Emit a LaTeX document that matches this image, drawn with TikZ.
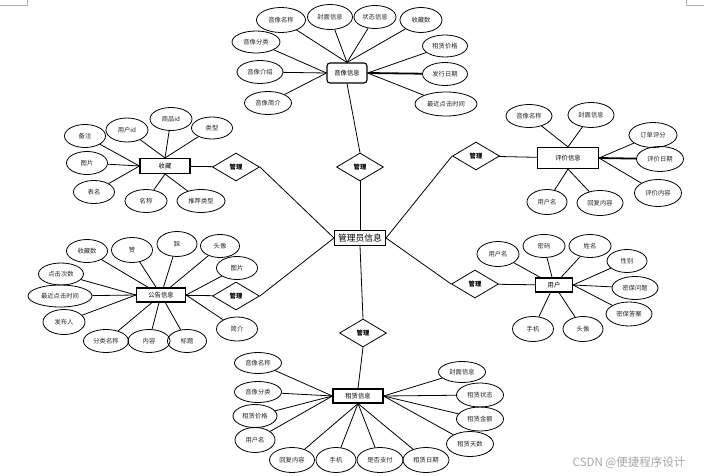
\documentclass[tikz,border=0pt]{standalone}
\usepackage{fontspec}
\newfontfamily\cjk{Noto Sans CJK SC}
\usetikzlibrary{shapes.geometric}
\tikzset{
  attr/.style={ellipse,draw,line width=0.8pt,inner sep=0pt,minimum width=44pt,minimum height=23pt,font=\cjk\fontsize{6.3}{7}\selectfont,text=black!85},
  ent/.style={rectangle,draw,line width=1.1pt,inner sep=0pt,minimum width=50pt,minimum height=15pt,font=\cjk\fontsize{6.3}{7}\selectfont},
  rel/.style={diamond,draw,line width=0.8pt,inner sep=0pt,minimum width=47pt,minimum height=28pt,font=\cjk\bfseries\fontsize{6.3}{7}\selectfont},
  conn/.style={line width=0.8pt},
  thickconn/.style={line width=1.8pt},
  cornermark/.style={draw=black!30,line width=0.8pt}
}
\begin{document}
\begin{tikzpicture}[x=1pt,y=-1pt]
\useasboundingbox (0,0) rectangle (704,476);
% corner marks
\coordinate (tl1) at (0,5); \coordinate (tl2) at (27,5); \coordinate (tl3) at (27,0);
\draw[cornermark] (tl1) -- (tl2) -- (tl3);
\coordinate (tr1) at (686,0); \coordinate (tr2) at (686,5); \coordinate (tr3) at (704,5);
\draw[cornermark] (tr1) -- (tr2) -- (tr3);

% central
\node[rectangle,draw,line width=1.1pt,inner sep=0pt,minimum width=51pt,minimum height=15pt,font=\cjk\fontsize{8.8}{10}\selectfont] (admin) at (360,238) {管理员信息};
\node[rel] (r1) at (360,167) {管理};
\node[rel] (r2) at (363,333) {管理};
\node[rel] (r3) at (236,167) {管理};
\node[rel] (r4) at (476,156) {管理};
\node[rel] (r5) at (236,296) {管理};
\node[rel] (r6) at (475,284) {管理};

% 音像信息
\node[ent,rounded corners=3pt,minimum width=40pt,minimum height=20pt] (yx) at (347,73) {音像信息};
\node[attr,minimum width=49pt,minimum height=25pt] (yx1) at (281,20) {音像名称};
\node[attr,minimum width=45pt,minimum height=25pt] (yx2) at (330,17) {封面信息};
\node[attr,minimum width=42pt,minimum height=23pt] (yx3) at (375,17) {状态信息};
\node[attr,minimum width=42pt,minimum height=25pt] (yx4) at (421,20) {收藏数};
\node[attr,minimum width=48pt,minimum height=22pt] (yx5) at (256,42) {音像分类};
\node[attr,minimum width=46pt,minimum height=23pt] (yx6) at (260,72) {音像介绍};
\node[attr,minimum width=47pt,minimum height=23pt] (yx7) at (268,103) {音像简介};
\node[attr,minimum width=45pt,minimum height=22pt] (yx8) at (445,46) {租赁价格};
\node[attr,minimum width=45pt,minimum height=23pt] (yx9) at (445,74) {发行日期};
\node[attr,minimum width=62pt,minimum height=24pt] (yx10) at (446,104) {最近点击时间};
\foreach \a in {yx1,yx2,yx3,yx4} \draw[conn] (yx.north) -- (\a);
\foreach \a in {yx5,yx6,yx7} \draw[conn] (yx.west) -- (\a);
\foreach \a in {yx8,yx10} \draw[conn] (yx.east) -- (\a);
\draw[thickconn] (yx.east) -- (yx9);
\draw[conn] (yx.south) -- (r1.north);
\draw[conn] (r1.south) -- (admin.north);

% 收藏
\node[ent] (sc) at (165,166) {收藏};
\node[attr,minimum width=41pt] (sc1) at (85,136) {备注};
\node[attr,minimum width=42pt,minimum height=24pt] (sc2) at (127,130) {用户id};
\node[attr,minimum width=42pt] (sc3) at (171,119) {商品id};
\node[attr,minimum width=41pt,minimum height=22pt] (sc4) at (212,128) {类型};
\node[attr,minimum width=41pt] (sc5) at (87,163) {图片};
\node[attr,minimum width=41pt] (sc6) at (94,192) {表名};
\node[attr,minimum width=42pt] (sc7) at (146,201) {名称};
\node[attr,minimum width=48pt] (sc8) at (201,201) {推荐类型};
\foreach \a in {sc1,sc5,sc6} \draw[conn] (sc.west) -- (\a);
\foreach \a in {sc2,sc3,sc4} \draw[conn] (sc.north) -- (\a);
\foreach \a in {sc7,sc8} \draw[conn] (sc.south) -- (\a);
\draw[conn] (sc) -- (r3);
\draw[conn] (r3.east) -- (admin.west);

% 评价信息
\node[ent,minimum width=61pt,minimum height=21pt] (pj) at (568,158) {评价信息};
\node[attr,minimum width=46pt] (pj1) at (529,116) {音像名称};
\node[attr,minimum width=46pt,minimum height=25pt] (pj2) at (591,115) {封面信息};
\node[attr,minimum width=48pt,minimum height=25pt] (pj3) at (653,135) {订单评分};
\node[attr,minimum width=47pt,minimum height=25pt] (pj4) at (660,159) {评价日期};
\node[attr,minimum width=47pt,minimum height=27pt] (pj5) at (658,193) {评价内容};
\node[attr,minimum width=40pt,minimum height=25pt] (pj6) at (547,202) {用户名};
\node[attr,minimum width=46pt,minimum height=25pt] (pj7) at (600,203) {回复内容};
\foreach \a in {pj1,pj2} \draw[conn] (pj.north) -- (\a);
\foreach \a in {pj6,pj7} \draw[conn] (pj.south) -- (\a);
\foreach \a in {pj3,pj5} \draw[conn] (pj.east) -- (\a);
\draw[thickconn] (pj.east) -- (pj4);
\draw[conn] (r4) -- (pj);
\draw[conn] (r4.west) -- (admin.east);

% 公告信息
\node[ent,minimum width=49pt,minimum height=14pt] (gg) at (161,295) {公告信息};
\node[attr,minimum width=41pt] (gg1) at (87,251) {收藏数};
\node[attr,minimum width=41pt,minimum height=25pt] (gg2) at (132,250) {赞};
\node[attr,minimum width=40pt,minimum height=25pt] (gg3) at (177,244) {踩};
\node[attr,minimum width=39pt] (gg4) at (220,246) {头像};
\node[attr,minimum width=41pt] (gg5) at (237,268) {图片};
\node[attr,minimum width=45pt,minimum height=22pt] (gg6) at (61,274) {点击次数};
\node[attr,minimum width=64pt,minimum height=22pt] (gg7) at (60,296) {最近点击时间};
\node[attr,minimum width=42pt,minimum height=25pt] (gg8) at (64,322) {发布人};
\node[attr,minimum width=45pt] (gg9) at (106,341) {分类名称};
\node[attr,minimum width=42pt] (gg10) at (149,341) {内容};
\node[attr,minimum width=39pt] (gg11) at (187,341) {标题};
\node[attr,minimum width=41pt,minimum height=24pt] (gg12) at (237,329) {简介};
\foreach \a in {gg1,gg2,gg3,gg4,gg9,gg10,gg11} \draw[conn] (gg) -- (\a);
\foreach \a in {gg6,gg7,gg8} \draw[conn] (gg.west) -- (\a);
\foreach \a in {gg5,gg12} \draw[conn] (gg.east) -- (\a);
\draw[conn] (gg) -- (r5);
\draw[conn] (r5.east) -- (admin.west);

% 用户
\node[ent,minimum width=37pt,minimum height=14pt] (yh) at (554,285) {用户};
\node[attr,minimum width=42pt,minimum height=25pt] (yh1) at (498,254) {用户名};
\node[attr,minimum width=42pt] (yh2) at (544,246) {密码};
\node[attr,minimum width=42pt] (yh3) at (590,246) {姓名};
\node[attr,minimum width=40pt] (yh4) at (627,261) {性别};
\node[attr,minimum width=46pt] (yh5) at (635,288) {密保问题};
\node[attr,minimum width=46pt,minimum height=24pt] (yh6) at (629,314) {密保答案};
\node[attr,minimum width=41pt,minimum height=25pt] (yh7) at (533,329) {手机};
\node[attr,minimum width=40pt,minimum height=25pt] (yh8) at (583,329) {头像};
\foreach \a in {yh1,yh2,yh3,yh7,yh8} \draw[conn] (yh) -- (\a);
\foreach \a in {yh4,yh5,yh6} \draw[conn] (yh.east) -- (\a);
\draw[conn] (r6) -- (yh);
\draw[conn] (r6.west) -- (admin.east);

% 租赁信息
\node[ent,minimum width=50pt,minimum height=14pt] (zl) at (358,396) {租赁信息};
\node[attr,minimum width=47pt,minimum height=21pt] (zl1) at (258,363) {音像名称};
\node[attr,minimum width=47pt,minimum height=21pt] (zl2) at (258,392) {音像分类};
\node[attr,minimum width=44pt] (zl3) at (255,416) {租赁价格};
\node[attr,minimum width=40pt,minimum height=25pt] (zl4) at (255,440) {用户名};
\node[attr,minimum width=45pt,minimum height=25pt] (zl5) at (292,460) {回复内容};
\node[attr,minimum width=40pt,minimum height=25pt] (zl6) at (336,460) {手机};
\node[attr,minimum width=46pt,minimum height=25pt] (zl7) at (380,460) {是否支付};
\node[attr,minimum width=46pt,minimum height=25pt] (zl8) at (426,460) {租赁日期};
\node[attr,minimum width=47pt,minimum height=21pt] (zl9) at (462,372) {封面信息};
\node[attr,minimum width=47pt,minimum height=24pt] (zl10) at (480,395) {租赁状态};
\node[attr,minimum width=47pt,minimum height=24pt] (zl11) at (480,419) {租赁金额};
\node[attr,minimum width=47pt,minimum height=25pt] (zl12) at (470,444) {租赁天数};
\foreach \a in {zl1,zl2,zl3,zl4} \draw[conn] (zl.west) -- (\a);
\foreach \a in {zl5,zl6,zl7,zl8} \draw[conn] (zl.south) -- (\a);
\foreach \a in {zl9,zl10,zl11,zl12} \draw[conn] (zl.east) -- (\a);
\draw[conn] (admin.south) -- (r2.north);
\draw[conn] (r2.south) -- (zl.north);

% watermark
\node[font=\cjk\fontsize{11.5}{13}\selectfont,text=black!35,inner sep=0pt] (wm) at (629,463) {CSDN @便捷程序设计};
\end{tikzpicture}
\end{document}
